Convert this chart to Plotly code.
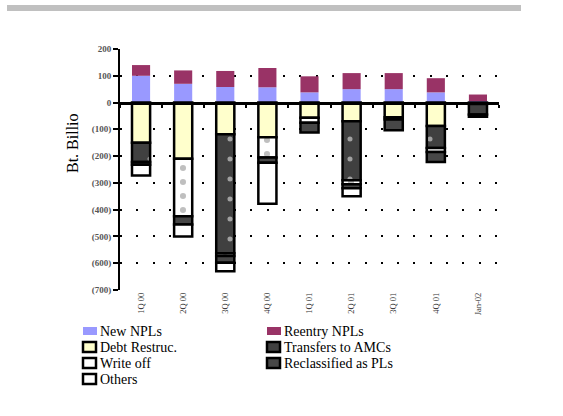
import plotly.graph_objects as go

# ---- data (Bt. billion); None = no flow in that period -------------------
quarters = ["1Q 00", "2Q 00", "3Q 00", "4Q 00", "1Q 01", "2Q 01", "3Q 01", "4Q 01", "Jan-02"]

# inflows (stack upward)
new_npls = [100, 70, 58, 57, 38, 50, 50, 38, 5]
reentry_npls = [40, 50, 60, 72, 60, 60, 60, 53, 25]

# outflows (stack downward)
debt_restruc = [-150, -210, -118, -130, -57, -70, -55, -88, -5]
transfers_amc = [-72, None, -445, None, None, -220, None, -82, -40]
write_off = [None, -215, -10, -75, -18, -15, -8, -15, None]
reclassified = [-10, -30, -25, -20, -37, -15, -40, -37, -8]
others = [-40, -45, -32, -153, None, -30, None, None, None]

y_tick_values = [200, 100, 0, -100, -200, -300, -400, -500, -600, -700]
y_tick_labels = ["200", "100", "0", "(100)", "(200)", "(300)", "(400)", "(500)", "(600)", "(700)"]

# ---- layout geometry ----------------------------------------------------
W, H = 563, 416
ML, MR, MT, MB = 120, 64, 49, 126
PW, PH = W - ML - MR, H - MT - MB
Y_MIN, Y_MAX = -700, 200
SERIF = "Liberation Serif"


def px_x(px):
    return (px - ML) / PW


def px_y(py):
    return (H - MB - py) / PH


OUTLINE = dict(color="black", width=2.5)

series = [
    dict(name="New NPLs", y=new_npls, color="#9999FF", outline=False, pattern=None),
    dict(name="Reentry NPLs", y=reentry_npls, color="#993366", outline=False, pattern=None),
    dict(name="Debt Restruc.", y=debt_restruc, color="#FFFFCC", outline=True, pattern=None),
    dict(name="Transfers to AMCs", y=transfers_amc, color="#404040", outline=True,
         pattern=dict(shape=".", fgcolor="white", bgcolor="#404040", size=20, solidity=0.05)),
    dict(name="Write off", y=write_off, color="#FFFFFF", outline=True,
         pattern=dict(shape=".", fgcolor="#808080", bgcolor="#FFFFFF", size=14, solidity=0.15)),
    dict(name="Reclassified as PLs", y=reclassified, color="#474747", outline=True, pattern=None),
    dict(name="Others", y=others, color="#FFFFFF", outline=True, pattern=None),
]

fig = go.Figure()
for s in series:
    marker = dict(color=s["color"], line=OUTLINE if s["outline"] else dict(width=0))
    if s["pattern"]:
        marker["pattern"] = s["pattern"]
    fig.add_trace(go.Bar(x=quarters, y=s["y"], name=s["name"], marker=marker,
                         showlegend=False))

# invisible trace that carries the zero axis (x2)
fig.add_trace(go.Scatter(x=[None], y=[None], xaxis="x2", yaxis="y",
                         showlegend=False, hoverinfo="skip"))

n = len(quarters)
zero_pos = (0 - Y_MIN) / (Y_MAX - Y_MIN)

fig.update_layout(
    width=W, height=H,
    margin=dict(l=ML, r=MR, t=MT, b=MB),
    paper_bgcolor="white", plot_bgcolor="white",
    barmode="relative", bargap=0.57,
    showlegend=False,
    font=dict(family=SERIF, color="black"),
    xaxis=dict(
        type="category", categoryorder="array", categoryarray=quarters,
        range=[-0.5, n - 0.5], showgrid=False, zeroline=False, showline=False,
        ticks="", tickangle=-90, tickfont=dict(family=SERIF, size=8.5, color="#333333"),
    ),
    xaxis2=dict(
        overlaying="x", anchor="free", position=zero_pos, side="bottom",
        range=[-0.5, n - 0.5], tickvals=[i - 0.5 for i in range(n + 1)],
        ticks="outside", ticklen=3, tickwidth=2, tickcolor="black",
        showticklabels=False, showgrid=False, zeroline=False,
        showline=True, linecolor="black", linewidth=3,
    ),
    yaxis=dict(
        range=[Y_MIN, Y_MAX], tickvals=y_tick_values, ticktext=y_tick_labels,
        tickfont=dict(family=SERIF, size=9, color="#555555", weight="bold"),
        ticks="outside", ticklen=5, tickwidth=2, tickcolor="black",
        showline=True, linecolor="black", linewidth=2,
        showgrid=True, gridcolor="black", gridwidth=2, griddash="2px,14.3px",
        zeroline=False,
    ),
)

shapes = [
    # grey rule across the top of the page
    dict(type="rect", xref="paper", yref="paper",
         x0=px_x(7), x1=px_x(521), y0=px_y(11), y1=px_y(5),
         fillcolor="#C0C0C0", line=dict(width=0), layer="below"),
]
annotations = [
    dict(text="Bt. Billio", xref="paper", yref="paper", x=px_x(72), y=px_y(143),
         xanchor="center", yanchor="middle", textangle=-90, showarrow=False,
         font=dict(family=SERIF, size=16, color="black")),
]

# two-column key below the chart
col_icon = [83, 267]
row_center0, row_step = 331, 16
key_slots = [(0, 0), (1, 0), (0, 1), (1, 1), (0, 2), (1, 2), (0, 3)]
for s, (col, row) in zip(series, key_slots):
    cy = row_center0 + row_step * row
    x0 = col_icon[col]
    if s["outline"]:
        shapes.append(dict(type="rect", xref="paper", yref="paper",
                           x0=px_x(x0), x1=px_x(x0 + 13), y0=px_y(cy + 5), y1=px_y(cy - 5),
                           fillcolor=s["color"], line=dict(color="black", width=2.5)))
    else:
        shapes.append(dict(type="rect", xref="paper", yref="paper",
                           x0=px_x(x0), x1=px_x(x0 + 14), y0=px_y(cy + 4), y1=px_y(cy - 4),
                           fillcolor=s["color"], line=dict(width=0)))
    annotations.append(dict(text=s["name"], xref="paper", yref="paper",
                            x=px_x(x0 + 16), y=px_y(cy), xanchor="left", yanchor="middle",
                            showarrow=False, borderpad=0,
                            font=dict(family=SERIF, size=14, color="black")))

fig.update_layout(shapes=shapes, annotations=annotations)

fig.write_html("out.html")
